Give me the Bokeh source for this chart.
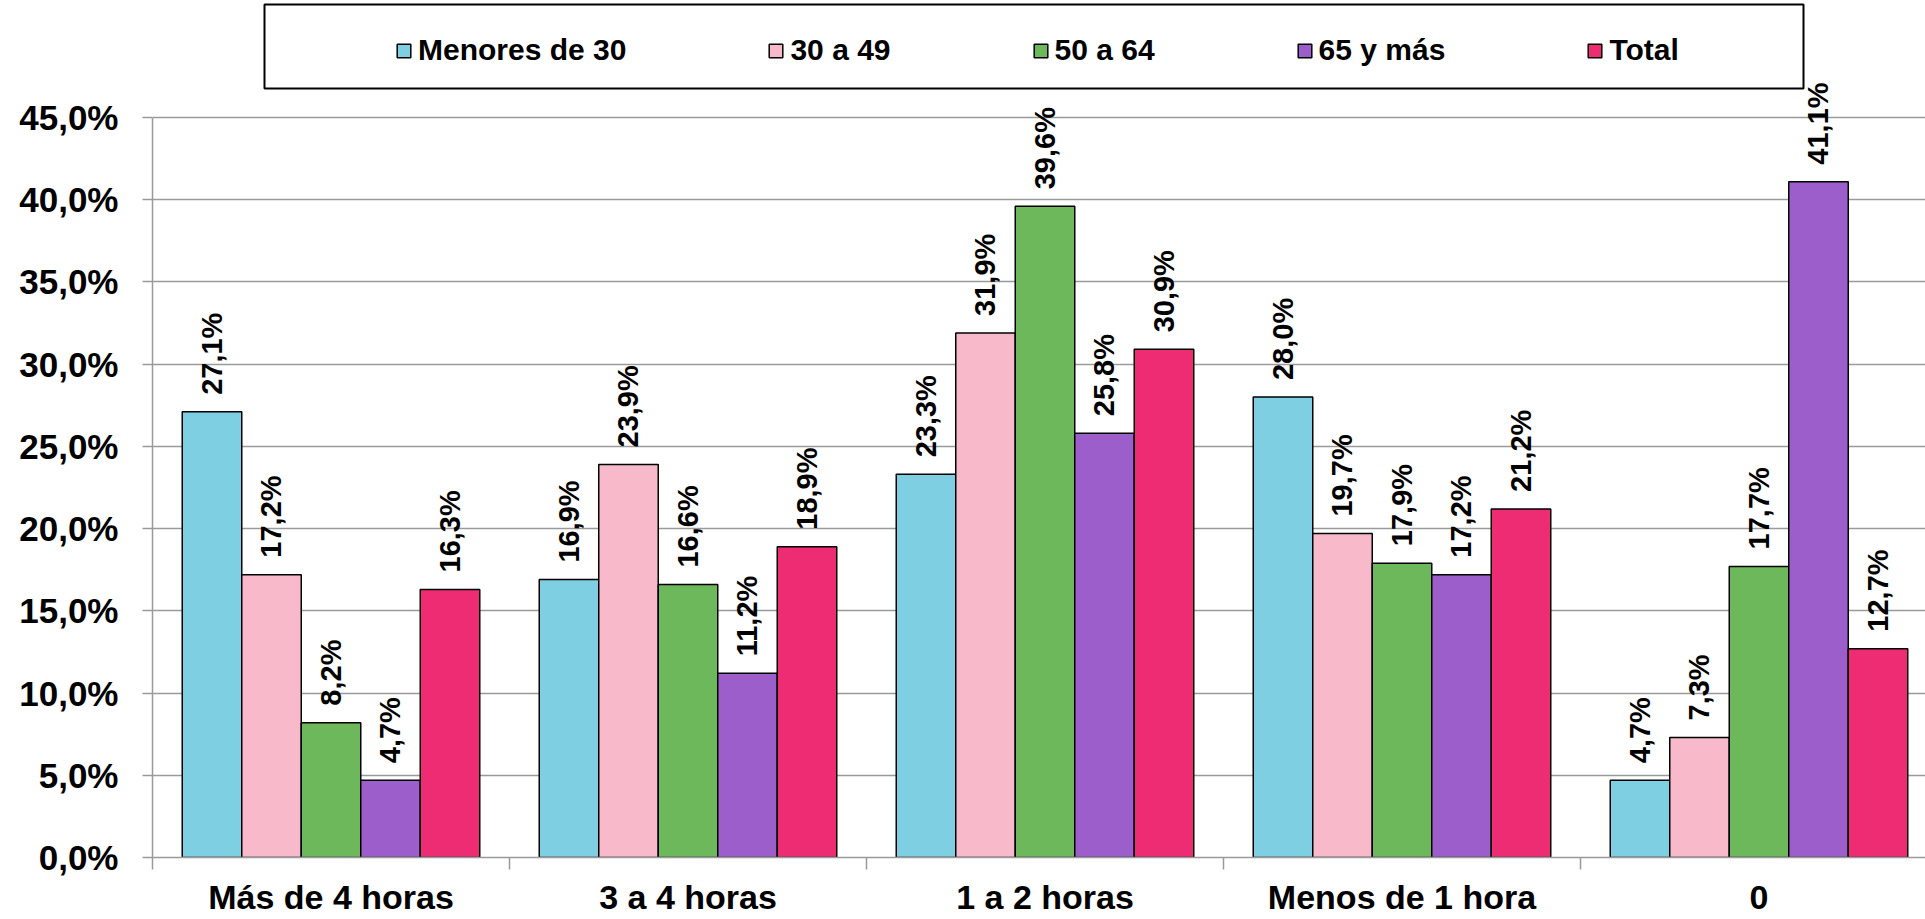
import math
from bokeh.plotting import figure
from bokeh.models import (ColumnDataSource, Range1d, FixedTicker, LabelSet,
                          Legend, LegendItem, BoxAnnotation)
from bokeh.core.properties import value
from bokeh.embed import file_html
from bokeh.resources import INLINE

# ---------------- data ----------------
categories = ["Más de 4 horas", "3 a 4 horas", "1 a 2 horas", "Menos de 1 hora", "0"]
series_names = ["Menores de 30", "30 a 49", "50 a 64", "65 y más", "Total"]
menores_de_30 = [27.1, 16.9, 23.3, 28.0, 4.7]
de_30_a_49 = [17.2, 23.9, 31.9, 19.7, 7.3]
de_50_a_64 = [8.2, 16.6, 39.6, 17.9, 17.7]
de_65_y_mas = [4.7, 11.2, 25.8, 17.2, 41.1]
total = [16.3, 18.9, 30.9, 21.2, 12.7]
series_colors = ["#7ECFE1", "#F8BACB", "#6CB85A", "#9C5ECB", "#EE2C73"]
y_ticks = [0, 5, 10, 15, 20, 25, 30, 35, 40, 45]

series_values = [menores_de_30, de_30_a_49, de_50_a_64, de_65_y_mas, total]

# ---------------- layout ----------------
FONT = "Liberation Sans"
LEFT = 152            # frame left (canvas px)
FRAME_W = 1773
FRAME_H = 857
CAT_PX = 357          # pixels per category
TOP45_PX = 117        # canvas y of the 45% gridline
Y_END = 45 * FRAME_H / (FRAME_H - TOP45_PX)
X_END = FRAME_W / CAT_PX
BAR_W = 1 / 6
GAP = 1 / 12
GRID_COLOR = "#9A9A9A"

p = figure(frame_width=FRAME_W, frame_height=FRAME_H,
           x_range=Range1d(0, X_END), y_range=Range1d(0, Y_END),
           output_backend="svg", toolbar_location=None, title=None,
           min_border_left=LEFT, min_border_right=0, min_border_top=0,
           min_border_bottom=0)
p.outline_line_color = None
p.background_fill_color = "white"
p.border_fill_color = "white"

renderers = []
for j, (name, vals, col) in enumerate(zip(series_names, series_values, series_colors)):
    xs = [i + GAP + (j + 0.5) * BAR_W for i in range(len(categories))]
    src = ColumnDataSource(dict(
        x=xs, top=vals,
        label=[f"{v:.1f}".replace(".", ",") + "%" for v in vals]))
    r = p.vbar(x="x", top="top", width=BAR_W, source=src,
               fill_color=col, line_color="black", line_width=1.5)
    renderers.append(r)
    labels = LabelSet(x="x", y="top", text="label", source=src,
                      angle=math.pi / 2, text_align="left",
                      text_baseline="middle", y_offset=17,
                      text_font=value(FONT), text_font_style="bold",
                      text_font_size="29px", text_color="black")
    p.add_layout(labels)

# ---------------- axes ----------------
p.xgrid.visible = False
p.yaxis.ticker = FixedTicker(ticks=y_ticks)
p.yaxis.bounds = (0, 45)
p.yaxis.major_label_overrides = {t: f"{t:.1f}".replace(".", ",") + "%" for t in y_ticks}
p.yaxis.major_tick_out = 10
p.yaxis.major_tick_in = 0
p.yaxis.minor_tick_line_color = None
p.yaxis.axis_line_color = GRID_COLOR
p.yaxis.axis_line_width = 1.5
p.yaxis.major_tick_line_color = GRID_COLOR
p.yaxis.major_tick_line_width = 1.5
p.yaxis.major_label_standoff = 24
p.yaxis.major_label_text_font = FONT
p.yaxis.major_label_text_font_style = "bold"
p.yaxis.major_label_text_font_size = "35px"
p.yaxis.major_label_text_color = "black"

p.ygrid.grid_line_color = GRID_COLOR
p.ygrid.grid_line_width = 1.5

centers = [i + 0.5 for i in range(len(categories))]
p.xaxis.ticker = FixedTicker(ticks=centers,
                             minor_ticks=list(range(len(categories) + 1)))
p.xaxis.major_label_overrides = {c: cat for c, cat in zip(centers, categories)}
p.xaxis.major_tick_line_color = None
p.xaxis.major_tick_out = 0
p.xaxis.major_tick_in = 0
p.xaxis.minor_tick_out = 12
p.xaxis.minor_tick_in = 0
p.xaxis.minor_tick_line_color = GRID_COLOR
p.xaxis.minor_tick_line_width = 1.5
p.xaxis.axis_line_color = GRID_COLOR
p.xaxis.axis_line_width = 1.5
p.xaxis.major_label_standoff = 8
p.xaxis.major_label_text_font = FONT
p.xaxis.major_label_text_font_style = "bold"
p.xaxis.major_label_text_font_size = "34px"
p.xaxis.major_label_text_color = "black"

# ---------------- legend ----------------
def px_to_x(px):
    return (px - LEFT) / CAT_PX

def py_to_y(py):
    return (FRAME_H - py) * Y_END / FRAME_H

box = BoxAnnotation(left=px_to_x(264), right=px_to_x(1803),
                    top=py_to_y(4), bottom=py_to_y(88),
                    fill_color=None, fill_alpha=0,
                    line_color="black", line_width=2, line_alpha=1)
p.add_layout(box)

LEG_H = 34
legend = Legend(
    items=[LegendItem(label=value(n), renderers=[r]) for n, r in zip(series_names, renderers)],
    orientation="horizontal", location=(243, FRAME_H - 33 - LEG_H),
    spacing=141, label_standoff=6, glyph_width=17, glyph_height=17,
    padding=0, margin=0, border_line_color=None, background_fill_alpha=0,
    label_text_font=FONT, label_text_font_style="bold",
    label_text_font_size="30px", label_text_color="black")
p.add_layout(legend)

open("out.html", "w").write(file_html(p, INLINE))
